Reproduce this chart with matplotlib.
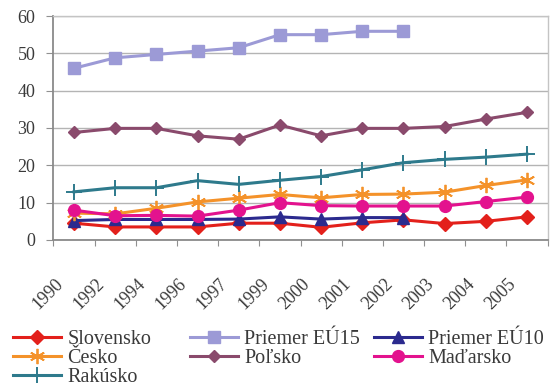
import matplotlib
matplotlib.use("Agg")
import matplotlib.pyplot as plt
import numpy as np

plt.rcParams['font.family'] = ['Liberation Serif', 'DejaVu Serif']

years = ["1990", "1992", "1994", "1996", "1997", "1999", "2000", "2001",
         "2002", "2003", "2004", "2005"]

slovensko = [4.5, 3.5, 3.5, 3.5, 4.5, 4.5, 3.4, 4.6, 5.4, 4.4, 5.0, 6.2]
eu15 = [46.0, 48.8, 49.7, 50.6, 51.5, 55.0, 55.0, 55.9, 55.9]
eu10 = [5.2, 5.5, 5.5, 5.5, 5.6, 6.2, 5.6, 6.0, 6.0]
cesko = [7.2, 7.0, 8.5, 10.2, 11.2, 12.2, 11.3, 12.2, 12.3, 12.8, 14.6, 16.1]
polsko = [28.8, 29.9, 29.9, 27.9, 27.0, 30.8, 27.9, 29.9, 29.9, 30.4, 32.4, 34.2]
madarsko = [8.0, 6.5, 6.6, 6.4, 8.0, 10.0, 9.2, 9.1, 9.1, 9.1, 10.3, 11.5]
rakusko = [12.9, 14.0, 14.0, 15.9, 14.9, 16.0, 17.0, 18.8, 20.7, 21.6, 22.2, 23.0]

W, H = 551, 388
fig = plt.figure(figsize=(W / 100, H / 100), dpi=100)
ax = fig.add_axes([53.4 / W, 1 - 240 / H, (547.6 - 53.4) / W, (240 - 16) / H])

x = np.arange(len(years))
lw = 2.2
series = [
    ("Slovensko", slovensko, "#e3201b", dict(marker="D", ms=7.5)),
    ("Priemer EÚ15", eu15, "#9c9ad6", dict(marker="s", ms=8.5)),
    ("Priemer EÚ10", eu10, "#2b2a8e", dict(marker="^", ms=8.5)),
    ("Česko", cesko, "#f4922a", dict(marker=(6, 2, 0), ms=11, mew=1.3)),
    ("Poľsko", polsko, "#8a4a6c", dict(marker="D", ms=6.5)),
    ("Maďarsko", madarsko, "#e3128e", dict(marker="o", ms=8.5)),
    ("Rakúsko", rakusko, "#2e7a8c", dict(marker="+", ms=11, mew=1.4)),
]
handles = {}
for name, vals, col, mk in series:
    h, = ax.plot(x[:len(vals)], vals, color=col, lw=lw, label=name, **mk)
    handles[name] = h

ax.set_xlim(-0.5, len(years) - 0.5)
ax.set_ylim(0, 60)
ax.set_yticks(np.arange(0, 61, 10))
ax.yaxis.grid(True, color="#b4b4b4", lw=1.0)
ax.set_axisbelow(True)

# major ticks at category boundaries, labels on minor ticks
ax.set_xticks(np.arange(-0.5, len(years) + 0.5, 1))
ax.set_xticklabels([])
ax.set_xticks(x - 0.33, minor=True)
ax.set_xticklabels(years, minor=True, rotation=45, ha="right", va="center",
                   rotation_mode="anchor", fontsize=13, color="#3a3a3a")
ax.tick_params(axis="x", which="minor", length=0, pad=30)
ax.tick_params(axis="x", which="major", length=4, color="#909090", direction="out")
ax.tick_params(axis="y", length=5, color="#909090", direction="out", pad=8,
               labelsize=13, labelcolor="#3a3a3a")

for s in ("left", "bottom"):
    ax.spines[s].set_color("#8a8a8a")
    ax.spines[s].set_linewidth(1.3)
for s in ("top", "right"):
    ax.spines[s].set_color("#c4c4c4")
    ax.spines[s].set_linewidth(1.0)

cols = [
    (["Slovensko", "Česko", "Rakúsko"], 13),
    (["Priemer EÚ15", "Poľsko"], 190),
    (["Priemer EÚ10", "Maďarsko"], 374),
]
for names, x0 in cols:
    leg = fig.legend([handles[n] for n in names], names, loc="upper left",
                     bbox_to_anchor=(x0 / W, 1 - 330 / H), frameon=False,
                     borderpad=0, borderaxespad=0, handlelength=2.4,
                     handletextpad=0.3, labelspacing=0.0, fontsize=14.5,
                     labelcolor="#3a3a3a")

fig.savefig("out.png", dpi=100)
